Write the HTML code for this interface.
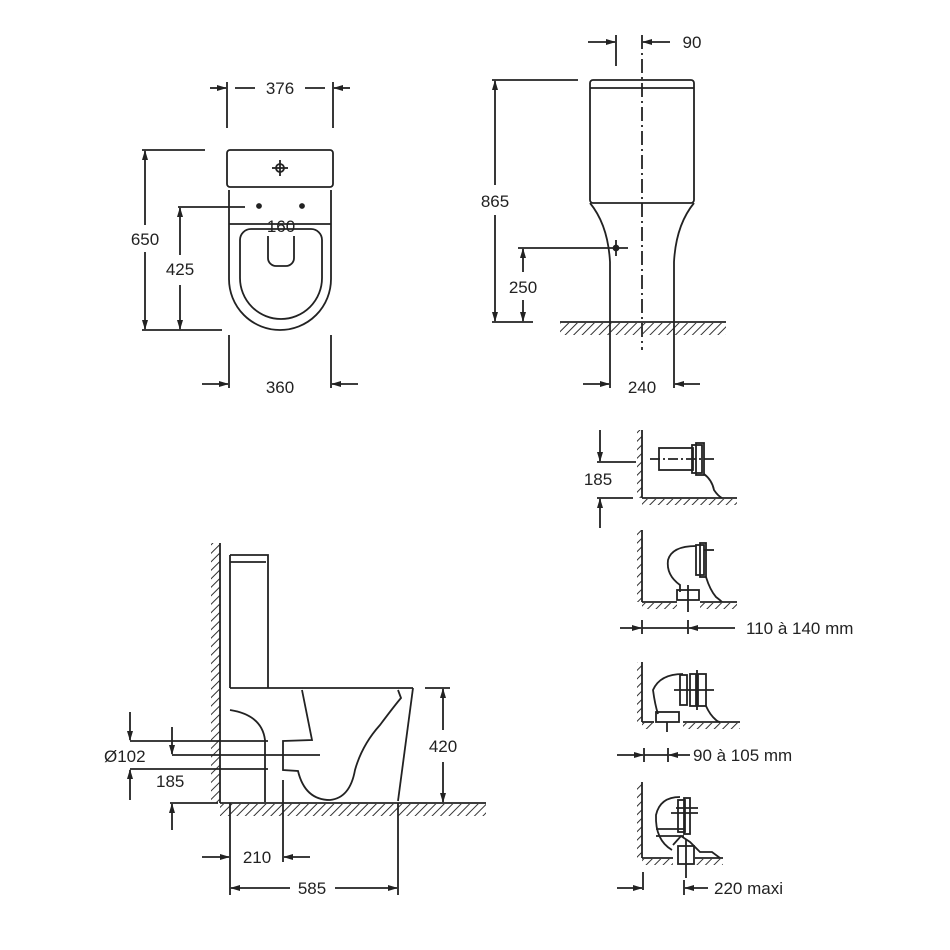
<!DOCTYPE html>
<html><head><meta charset="utf-8"><style>
html,body{margin:0;padding:0;background:#fff;}
svg{display:block;}
text{font-family:"Liberation Sans",sans-serif;font-size:17px;fill:#222;}
</style></head><body>
<svg width="950" height="950" viewBox="0 0 950 950" xmlns="http://www.w3.org/2000/svg">
<defs>
<pattern id="h" width="6" height="6" patternUnits="userSpaceOnUse" patternTransform="rotate(45)">
<line x1="0" y1="0" x2="0" y2="6" stroke="#333" stroke-width="2"/>
</pattern>
<marker id="a" markerWidth="10" markerHeight="8" refX="9" refY="4" orient="auto" markerUnits="userSpaceOnUse">
<path d="M0,1 L10,4 L0,7 z" fill="#222"/>
</marker>
</defs>
<g fill="none" stroke="#222" stroke-width="1.8">
<!-- ===== FRONT VIEW ===== -->
<line x1="227" y1="82" x2="227" y2="128"/><line x1="333" y1="82" x2="333" y2="128"/>
<line x1="210" y1="88" x2="226" y2="88" marker-end="url(#a)"/><line x1="350" y1="88" x2="334" y2="88" marker-end="url(#a)"/>
<line x1="235" y1="88" x2="255" y2="88"/><line x1="305" y1="88" x2="325" y2="88"/>
<rect x="227" y="150" width="106" height="37" rx="3"/>
<circle cx="280" cy="168" r="4"/><line x1="272" y1="168" x2="288" y2="168"/><line x1="280" y1="160" x2="280" y2="176"/>
<path d="M229,190 L229,279 A51,51 0 0 0 331,279 L331,190"/>
<path d="M240,240 A11,11 0 0 1 251,229 L311,229 A11,11 0 0 1 322,240 L322,278 A41,41 0 0 1 240,278 Z"/>
<path d="M268,236 L268,258 A8,8 0 0 0 276,266 L286,266 A8,8 0 0 0 294,258 L294,236"/>
<circle cx="259" cy="206" r="2" fill="#222"/><circle cx="302" cy="206" r="2" fill="#222"/>
<line x1="229" y1="224" x2="331" y2="224"/>
<line x1="142" y1="150" x2="205" y2="150"/><line x1="142" y1="330" x2="222" y2="330"/>
<line x1="145" y1="225" x2="145" y2="151" marker-end="url(#a)"/><line x1="145" y1="252" x2="145" y2="329" marker-end="url(#a)"/>
<line x1="178" y1="207" x2="245" y2="207"/>
<line x1="180" y1="255" x2="180" y2="208" marker-end="url(#a)"/><line x1="180" y1="285" x2="180" y2="329" marker-end="url(#a)"/>
<line x1="229" y1="335" x2="229" y2="388"/><line x1="331" y1="335" x2="331" y2="388"/>
<line x1="202" y1="384" x2="228" y2="384" marker-end="url(#a)"/><line x1="358" y1="384" x2="332" y2="384" marker-end="url(#a)"/>
<!-- ===== SIDE VIEW ===== -->
<line x1="616" y1="35" x2="616" y2="66"/>
<line x1="642" y1="35" x2="642" y2="350" stroke-dasharray="14,4,2,4"/>
<line x1="588" y1="42" x2="615" y2="42" marker-end="url(#a)"/><line x1="670" y1="42" x2="643" y2="42" marker-end="url(#a)"/>
<rect x="590" y="80" width="104" height="123" rx="3"/><line x1="590" y1="88" x2="694" y2="88"/>
<path d="M590,203 Q608,225 610,262 L610,322"/><path d="M694,203 Q676,225 674,262 L674,322"/>
<line x1="492" y1="80" x2="578" y2="80"/><line x1="492" y1="322" x2="533" y2="322"/>
<line x1="495" y1="185" x2="495" y2="81" marker-end="url(#a)"/><line x1="495" y1="215" x2="495" y2="321" marker-end="url(#a)"/>
<line x1="518" y1="248" x2="628" y2="248"/><line x1="616" y1="240" x2="616" y2="256"/><circle cx="616" cy="248" r="2.5" fill="#222"/>
<line x1="523" y1="272" x2="523" y2="249" marker-end="url(#a)"/><line x1="523" y1="300" x2="523" y2="321" marker-end="url(#a)"/>
<line x1="560" y1="322" x2="726" y2="322"/>
<rect x="560" y="323" width="166" height="12" fill="url(#h)" stroke="none"/>
<line x1="610" y1="322" x2="610" y2="388"/><line x1="674" y1="322" x2="674" y2="388"/>
<line x1="583" y1="384" x2="609" y2="384" marker-end="url(#a)"/><line x1="700" y1="384" x2="675" y2="384" marker-end="url(#a)"/>
<!-- ===== SECTION VIEW ===== -->
<rect x="211" y="543" width="9" height="260" fill="url(#h)" stroke="none"/>
<line x1="220" y1="543" x2="220" y2="803"/>
<line x1="220" y1="803" x2="486" y2="803"/>
<rect x="220" y="804" width="266" height="12" fill="url(#h)" stroke="none"/>
<path d="M230,555 L268,555 L268,688"/><line x1="230" y1="562" x2="266" y2="562"/><line x1="230" y1="555" x2="230" y2="688"/>
<line x1="230" y1="688" x2="413" y2="688"/>
<path d="M413,688 L398,801"/>
<path d="M302,690 L312,740 L283,741 L283,770 L298,771 Q305,800 330,800 Q350,798 355,770 Q362,745 380,725 Q395,705 401,698 L398,690"/>
<path d="M230,710 Q262,715 265,740 L265,802"/>
<line x1="283" y1="780" x2="283" y2="862"/>
<line x1="130" y1="741" x2="268" y2="741"/>
<line x1="172" y1="755" x2="320" y2="755"/>
<line x1="130" y1="769" x2="268" y2="769"/>
<line x1="170" y1="803" x2="218" y2="803"/>
<line x1="130" y1="712" x2="130" y2="740" marker-end="url(#a)"/><line x1="130" y1="800" x2="130" y2="770" marker-end="url(#a)"/>
<line x1="172" y1="727" x2="172" y2="754" marker-end="url(#a)"/><line x1="172" y1="830" x2="172" y2="804" marker-end="url(#a)"/>
<line x1="425" y1="688" x2="450" y2="688"/>
<line x1="443" y1="730" x2="443" y2="689" marker-end="url(#a)"/><line x1="443" y1="762" x2="443" y2="802" marker-end="url(#a)"/>
<line x1="230" y1="803" x2="230" y2="895"/><line x1="398" y1="803" x2="398" y2="895"/>
<line x1="202" y1="857" x2="229" y2="857" marker-end="url(#a)"/><line x1="310" y1="857" x2="284" y2="857" marker-end="url(#a)"/>
<line x1="290" y1="888" x2="231" y2="888" marker-end="url(#a)"/><line x1="335" y1="888" x2="397" y2="888" marker-end="url(#a)"/>
<!-- ===== INSTALLATION 1 ===== -->
<rect x="637" y="430" width="5" height="68" fill="url(#h)" stroke="none"/>
<line x1="642" y1="430" x2="642" y2="498"/><line x1="642" y1="498" x2="737" y2="498"/>
<rect x="642" y="499" width="95" height="6" fill="url(#h)" stroke="none"/>
<rect x="659" y="448" width="34" height="22"/><rect x="692" y="445" width="10" height="28"/><rect x="696" y="443" width="8" height="32"/>
<line x1="650" y1="459" x2="715" y2="459" stroke-dasharray="10,3,2,3"/>
<path d="M704,474 Q712,480 714,490 Q718,496 722,498"/>
<line x1="597" y1="462" x2="636" y2="462"/><line x1="597" y1="498" x2="633" y2="498"/>
<line x1="600" y1="430" x2="600" y2="461" marker-end="url(#a)"/><line x1="600" y1="528" x2="600" y2="499" marker-end="url(#a)"/>
<!-- ===== INSTALLATION 2 ===== -->
<rect x="637" y="530" width="5" height="72" fill="url(#h)" stroke="none"/>
<line x1="642" y1="530" x2="642" y2="602"/><line x1="642" y1="602" x2="677" y2="602"/><line x1="700" y1="602" x2="737" y2="602"/>
<rect x="642" y="603" width="35" height="6" fill="url(#h)" stroke="none"/><rect x="700" y="603" width="37" height="6" fill="url(#h)" stroke="none"/>
<path d="M696,546 Q672,546 668,560 Q666,575 680,585 L680,592"/>
<rect x="677" y="590" width="22" height="10"/><line x1="688" y1="585" x2="688" y2="612"/>
<rect x="696" y="545" width="8" height="30"/><rect x="700" y="543" width="6" height="34"/><line x1="704" y1="550" x2="714" y2="550"/>
<path d="M706,577 Q710,590 716,597 Q720,600 722,602"/>
<line x1="620" y1="628" x2="641" y2="628" marker-end="url(#a)"/><line x1="642" y1="620" x2="642" y2="634"/>
<line x1="642" y1="628" x2="688" y2="628"/><line x1="688" y1="620" x2="688" y2="634"/>
<line x1="735" y1="628" x2="689" y2="628" marker-end="url(#a)"/>
<!-- ===== INSTALLATION 3 ===== -->
<rect x="637" y="662" width="5" height="60" fill="url(#h)" stroke="none"/>
<line x1="642" y1="662" x2="642" y2="722"/><line x1="642" y1="722" x2="654" y2="722"/><line x1="683" y1="722" x2="740" y2="722"/>
<rect x="642" y="723" width="12" height="6" fill="url(#h)" stroke="none"/><rect x="683" y="723" width="57" height="6" fill="url(#h)" stroke="none"/>
<path d="M683,674 Q660,674 653,690 Q655,705 658,714"/>
<rect x="656" y="712" width="23" height="10"/><line x1="667" y1="722" x2="667" y2="732"/>
<rect x="680" y="675" width="7" height="30"/><rect x="690" y="674" width="6" height="32"/><rect x="698" y="674" width="8" height="32"/>
<line x1="674" y1="690" x2="714" y2="690"/><line x1="697" y1="670" x2="697" y2="710"/>
<path d="M706,706 Q710,715 716,720 Q718,722 720,722"/>
<line x1="617" y1="755" x2="643" y2="755" marker-end="url(#a)"/><line x1="644" y1="748" x2="644" y2="762"/>
<line x1="644" y1="755" x2="668" y2="755"/><line x1="668" y1="748" x2="668" y2="762"/>
<line x1="690" y1="755" x2="669" y2="755" marker-end="url(#a)"/>
<!-- ===== INSTALLATION 4 ===== -->
<rect x="637" y="782" width="5" height="76" fill="url(#h)" stroke="none"/>
<line x1="642" y1="782" x2="642" y2="858"/><line x1="642" y1="858" x2="673" y2="858"/><line x1="695" y1="858" x2="723" y2="858"/>
<rect x="642" y="859" width="31" height="6" fill="url(#h)" stroke="none"/><rect x="695" y="859" width="28" height="6" fill="url(#h)" stroke="none"/>
<path d="M680,797 Q660,797 656,815 Q655,840 672,850"/>
<line x1="656" y1="829" x2="684" y2="829"/><line x1="656" y1="836" x2="684" y2="836"/>
<rect x="678" y="800" width="7" height="32"/><rect x="684" y="798" width="6" height="36"/>
<line x1="671" y1="813" x2="698" y2="813"/><line x1="676" y1="808" x2="698" y2="808"/>
<path d="M673,845 L681,836 L690,842 L700,852 L712,852 L720,858"/>
<rect x="678" y="846" width="16" height="18"/><line x1="686" y1="840" x2="686" y2="878"/>
<line x1="643" y1="872" x2="643" y2="890"/><line x1="617" y1="888" x2="642" y2="888" marker-end="url(#a)"/>
<line x1="708" y1="888" x2="685" y2="888" marker-end="url(#a)"/><line x1="684" y1="880" x2="684" y2="895"/>
</g>
<g>
<text x="280" y="94" text-anchor="middle">376</text>
<text x="281" y="232" text-anchor="middle">160</text>
<text x="145" y="245" text-anchor="middle">650</text>
<text x="180" y="275" text-anchor="middle">425</text>
<text x="280" y="393" text-anchor="middle">360</text>
<text x="692" y="48" text-anchor="middle">90</text>
<text x="495" y="207" text-anchor="middle">865</text>
<text x="523" y="293" text-anchor="middle">250</text>
<text x="642" y="393" text-anchor="middle">240</text>
<text x="598" y="485" text-anchor="middle">185</text>
<text x="746" y="634">110 à 140 mm</text>
<text x="693" y="761">90 à 105 mm</text>
<text x="714" y="894">220 maxi</text>
<text x="104" y="762">Ø102</text>
<text x="156" y="787">185</text>
<text x="443" y="752" text-anchor="middle">420</text>
<text x="257" y="863" text-anchor="middle">210</text>
<text x="312" y="894" text-anchor="middle">585</text>
</g>
</svg>
</body></html>
